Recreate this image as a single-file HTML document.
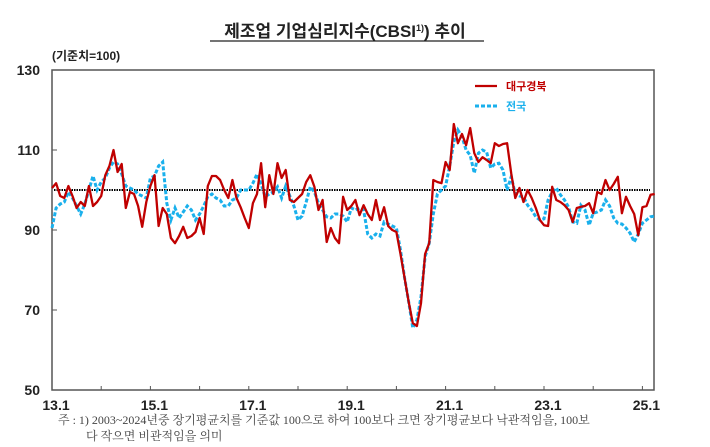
<!DOCTYPE html>
<html><head><meta charset="utf-8">
<style>
body{margin:0;background:#fff;width:710px;height:447px;overflow:hidden;font-family:"Liberation Sans","Noto Sans CJK KR",sans-serif;}
svg{position:absolute;left:0;top:0}
</style></head>
<body>
<svg width="710" height="447" xmlns="http://www.w3.org/2000/svg">
<text x="345" y="37" text-anchor="middle" font-size="17" font-weight="bold" fill="#222" font-family="Liberation Sans, Noto Sans CJK KR, sans-serif">제조업 기업심리지수(CBSI<tspan font-size="9" dy="-6">1)</tspan><tspan dy="6">) 추이</tspan></text>
<line x1="210" y1="41" x2="484" y2="41" stroke="#222" stroke-width="1.2"/>
<text x="52" y="60" font-size="12" font-weight="bold" fill="#222">(기준치=100)</text>
<rect x="52" y="70" width="602" height="320" fill="none" stroke="#555" stroke-width="1.5"/>
<g id="yaxis"></g>
<g id="xaxis"></g>
<line id="baseline" stroke="#000" stroke-width="2" stroke-dasharray="1.5,1"/>
<polyline id="blue" fill="none" stroke="#1ab0ec" stroke-width="3" stroke-dasharray="4,2"/>
<polyline id="red" fill="none" stroke="#c00000" stroke-width="2.3" stroke-linejoin="round"/>
<g>
<line x1="475" y1="86" x2="497" y2="86" stroke="#c00000" stroke-width="2.3"/>
<text x="506" y="90" font-size="11" font-weight="bold" fill="#c00000">대구경북</text>
<line x1="475" y1="106" x2="497" y2="106" stroke="#1ab0ec" stroke-width="3" stroke-dasharray="4,2"/>
<text x="506" y="110" font-size="11" font-weight="bold" fill="#1ab0ec">전국</text>
</g>
<text x="58" y="424" font-size="12" fill="#444" font-family="Liberation Serif, Noto Serif CJK SC, serif">주 : 1) 2003~2024년중 장기평균치를 기준값 100으로 하여 100보다 크면 장기평균보다 낙관적임을, 100보</text>
<text x="86" y="440" font-size="12" fill="#444" font-family="Liberation Serif, Noto Serif CJK SC, serif">다 작으면 비관적임을 의미</text>
</svg>
<script>
const yTicks=[130,110,90,70,50];
const xLabels=["13.1","15.1","17.1","19.1","21.1","23.1","25.1"];
const red=[100.5,101.7,98.5,98,101,98.5,95.5,97,96,101,96,97,98.5,103.7,106,110,104.5,106.5,95.5,99.5,99,96,90.8,97,101,103.7,91,95.5,94,88,86.7,88.5,90.8,88,88.5,89.5,93,89,101,103.5,103.5,102.5,100,98,102.5,98,95.7,93,90.5,96.7,99,106.7,95.7,103.7,99,106.7,103,105,97.5,97,98,99,102,103.7,100.8,95,97.5,87,90.5,88,86.7,98.3,95,96,97.5,93.7,96.2,94,92.5,97.5,92.5,95.7,91,90,89.5,84,78,72,66.7,66,71.7,84,86.7,102.5,102,101.7,107,105,116.5,111.7,114,111.2,115.5,109.2,107,108.2,107.5,106.7,111.7,111,111.5,111.7,104.2,98,100.5,97,100,98,95.5,92.5,91.2,91,100.8,97.5,97,96.2,95,92,95.5,95.8,96,96.7,94.2,99.5,99,102.5,100,101.5,103.3,94.2,98.3,96,94,88.7,95.7,96,98.8,99];
const blue=[90.5,95.5,96.5,97,99.5,98,96,94,96.5,100,103.5,100,102,103,105.5,107,106.5,104,101,100.5,100,99,98.5,98,103,103.5,106,107,96.7,92.5,95.5,93,94.5,96,95,92.5,94,96,98.3,99,98,97.5,96,96,97.5,98,100,100,100,101.7,104,101.5,98.3,99,99.5,100.8,98,101,98.5,96,92.5,93.5,97,100.8,99.5,96.7,95,93.3,93,94,94,93.5,92,95.5,95,95.5,95,89,88,89,88.5,92,91.5,91,90.5,85,78,72,65.5,67.5,73.3,83.3,86.7,94,99,100,101,106,112,115,113.3,110,108.7,104.2,109.2,110,109.5,105.5,106.5,106.7,105,100,103.3,99,98.5,98.3,96.2,95,93.3,92.5,92.8,97.5,99.5,100.5,98.8,97.5,95.7,92,91.7,96.2,95,91.2,94.2,94.5,95,97.5,96,93,91.7,91.5,90.5,89.2,87,89,91.7,92.5,93.3,93.5];
const baseValue=100;
const X0=52,PX=4.1,Y0=390,PY=4;
const xs=m=>X0+m*PX;
const ys=v=>Y0-(v-50)*PY;
const NS="http://www.w3.org/2000/svg";
const ya=document.getElementById('yaxis');
yTicks.forEach(v=>{
 const t=document.createElementNS(NS,'text');
 
 
 t.setAttribute('x',40);t.setAttribute('y',ys(v)+5);
 t.setAttribute('text-anchor','end');t.setAttribute('font-size','14');t.setAttribute('font-weight','bold');t.setAttribute('fill','#222');
 t.textContent=v;ya.appendChild(t);
 if(v!==130&&v!==50){const l=document.createElementNS(NS,'line');
 
 
 l.setAttribute('x1',X0);l.setAttribute('x2',X0+5);l.setAttribute('y1',ys(v));l.setAttribute('y2',ys(v));l.setAttribute('stroke','#555');ya.appendChild(l);}
});
const xa=document.getElementById('xaxis');
for(let yr=0;yr<=12;yr++){
 const l=document.createElementNS(NS,'line');
 
 
 l.setAttribute('x1',xs(yr*12));l.setAttribute('x2',xs(yr*12));l.setAttribute('y1',Y0);l.setAttribute('y2',Y0-4);l.setAttribute('stroke','#555');xa.appendChild(l);
}
xLabels.forEach((s,i)=>{
 const t=document.createElementNS(NS,'text');
 
 
 t.setAttribute('x',xs(i*24)+4);t.setAttribute('y',410);t.setAttribute('text-anchor','middle');
 t.setAttribute('font-size','14');t.setAttribute('font-weight','bold');t.setAttribute('fill','#222');
 t.textContent=s;xa.appendChild(t);
});
const bl=document.getElementById('baseline');
bl.setAttribute('x1',X0+2);bl.setAttribute('x2',650);bl.setAttribute('y1',ys(baseValue));bl.setAttribute('y2',ys(baseValue));
document.getElementById('red').setAttribute('points',red.map((v,i)=>xs(i)+','+ys(v)).join(' '));
document.getElementById('blue').setAttribute('points',blue.map((v,i)=>xs(i)+','+ys(v)).join(' '));
</script>
</body></html>
